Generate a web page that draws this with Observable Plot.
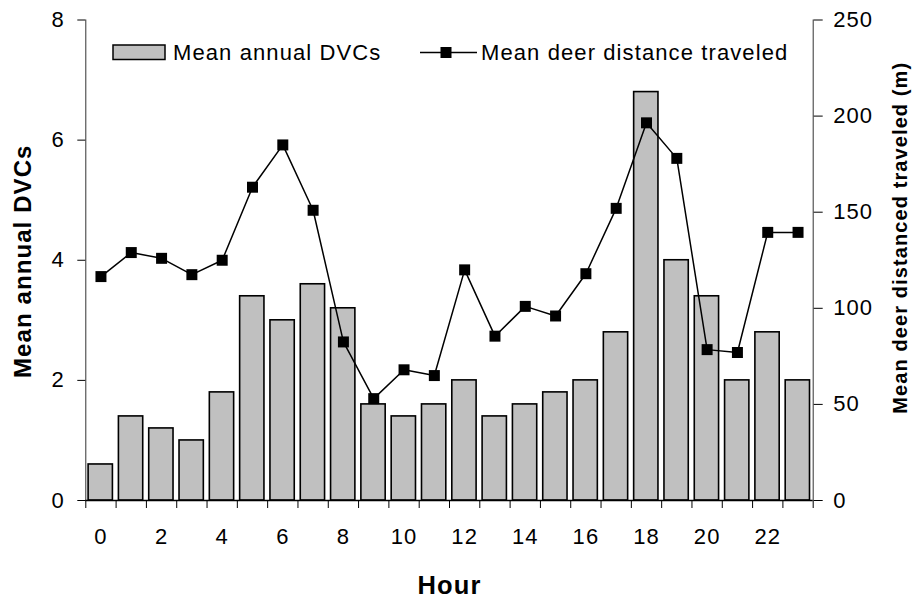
<!DOCTYPE html>
<html>
<head>
<meta charset="utf-8">
<script src="https://cdn.jsdelivr.net/npm/d3@7"></script>
<script src="https://cdn.jsdelivr.net/npm/@observablehq/plot@0.6"></script>
<style>
  html, body { margin: 0; padding: 0; background: #fff; }
  #chart { width: 916px; height: 601px; }
</style>
</head>
<body>
<div id="chart"></div>
<script>
// ---- data ----
const hours = [0,1,2,3,4,5,6,7,8,9,10,11,12,13,14,15,16,17,18,19,20,21,22,23];
const meanAnnualDVCs = [0.6,1.4,1.2,1.0,1.8,3.4,3.0,3.6,3.2,1.6,1.4,1.6,2.0,1.4,1.6,1.8,2.0,2.8,6.8,4.0,3.4,2.0,2.8,2.0];
const meanDistance = [116.5,129,126,117.5,125,163,185,151,82.5,53,68,65,120,85.5,101,96,118,152,196.5,178,78.5,77,139.5,139.5];
const hourTickLabels = [0,2,4,6,8,10,12,14,16,18,20,22];
const leftTicks = [0,2,4,6,8];
const rightTicks = [0,50,100,150,200,250];
const leftMax = 8, rightMax = 250;
const seriesNames = ["Mean annual DVCs", "Mean deer distance traveled"];
const titles = {x: "Hour", left: "Mean annual DVCs", right: "Mean deer distanced traveled (m)"};

const k = rightMax / leftMax; // right-axis units per left-axis unit
const table = hours.map((h, i) => ({hour: h, dvc: meanAnnualDVCs[i], dist: meanDistance[i]}));
const xMin = d3.min(hours) - 0.5, xMax = d3.max(hours) + 0.5;
const boundaries = hours.map(h => h - 0.5).concat([xMax]);

const font = "'Liberation Sans', Arial, sans-serif";

const plot = Plot.plot({
  width: 916,
  height: 601,
  marginLeft: 85.3,
  marginRight: 103.3,
  marginTop: 19.5,
  marginBottom: 101,
  style: {fontFamily: font, fontSize: "22px", color: "#000", background: "#fff", letterSpacing: "1.1px", overflow: "visible"},
  x: {type: "linear", domain: [xMin, xMax], label: null},
  y: {domain: [0, leftMax], label: null},
  marks: [
    // bars
    Plot.rectY(table, {x1: d => d.hour - 0.5, x2: d => d.hour + 0.5, y: "dvc", insetLeft: 2.8, insetRight: 3.2,
      fill: "#c0c0c0", stroke: "#000", strokeWidth: 1.6}),
    // axis lines
    Plot.ruleX([xMin, xMax], {stroke: "#333", strokeWidth: 1}),
    Plot.ruleY([0], {stroke: "#000", strokeWidth: 1.3}),
    // line series
    Plot.line(table, {x: "hour", y: d => d.dist / k, stroke: "#000", strokeWidth: 1.5}),
    Plot.dot(table, {x: "hour", y: d => d.dist / k, symbol: "square", r: 6.2, fill: "#000", stroke: null}),
    // axes
    Plot.axisY({anchor: "left", ticks: leftTicks, tickSize: 8, tickPadding: 13, label: null}),
    Plot.axisY({anchor: "right", ticks: rightTicks.map(v => v / k), tickFormat: d => String(Math.round(d * k)),
      tickSize: 9, tickPadding: 11, label: null}),
    Plot.axisX({anchor: "bottom", ticks: boundaries, tickFormat: () => "", tickSize: 8, label: null}),
    Plot.axisX({anchor: "bottom", ticks: hourTickLabels, tickSize: 0, tickPadding: 28, label: null}),
    // titles
    Plot.text([titles.x], {frameAnchor: "bottom", dy: 85, textAnchor: "middle", lineAnchor: "middle",
      fontSize: 25.5, fontWeight: "bold", letterSpacing: "1.6px"}),
    Plot.text([titles.left], {frameAnchor: "left", dx: -62, dy: 1, rotate: -90, textAnchor: "middle", lineAnchor: "middle",
      fontSize: 24, fontWeight: "bold", letterSpacing: "0px"}),
    Plot.text([titles.right], {frameAnchor: "right", dx: 87.5, dy: -22.5, rotate: -90, textAnchor: "middle", lineAnchor: "middle",
      fontSize: 20, fontWeight: "bold", letterSpacing: "0px"})
  ]
});

// legend (inside the plot area, top)
const svg = d3.select(plot);
const lg = svg.append("g").attr("font-family", font).attr("font-size", 22).attr("letter-spacing", "1.1px")
  .attr("fill", "#000").attr("text-anchor", "start");
lg.append("rect").attr("x", 113).attr("y", 45).attr("width", 52).attr("height", 14.5)
  .attr("fill", "#c0c0c0").attr("stroke", "#000").attr("stroke-width", 1.5);
lg.append("text").attr("x", 173).attr("y", 59.5).attr("text-anchor", "start").text(seriesNames[0]);
lg.append("line").attr("x1", 420).attr("x2", 477).attr("y1", 52.5).attr("y2", 52.5)
  .attr("stroke", "#000").attr("stroke-width", 1.5);
lg.append("rect").attr("x", 440.5).attr("y", 47).attr("width", 11).attr("height", 11).attr("fill", "#000");
lg.append("text").attr("x", 481).attr("y", 59.5).attr("text-anchor", "start").text(seriesNames[1]);

document.getElementById("chart").appendChild(plot);
</script>
</body>
</html>
